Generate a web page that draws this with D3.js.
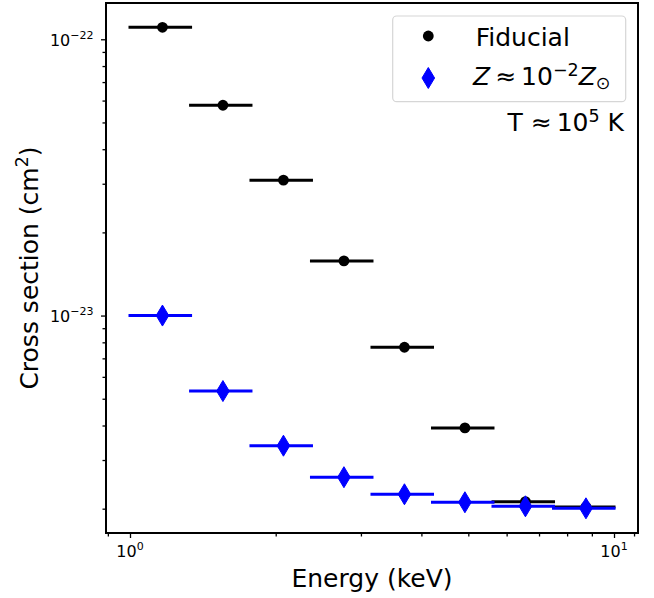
<!DOCTYPE html>
<html>
<head>
<meta charset="utf-8">
<script src="https://cdn.jsdelivr.net/npm/d3@7"></script>
<style>
  body { margin: 0; background: #fff; }
  svg { display: block; }
  text { font-family: "DejaVu Sans", sans-serif; fill: #000; }
</style>
</head>
<body>
<svg id="chart" width="654" height="598"></svg>
<script>
// Energy bins (keV): lower edge, upper edge and bin centre
const binLow  = [1.000, 1.334, 1.778, 2.371, 3.162, 4.217, 5.623, 7.499];
const binHigh = [1.334, 1.778, 2.371, 3.162, 4.217, 5.623, 7.499, 10.000];
const energy  = [1.167, 1.556, 2.075, 2.767, 3.690, 4.920, 6.561, 8.750];

// Cross sections (cm^2)
const fiducial = [1.105e-22, 5.77e-23, 3.09e-23, 1.577e-23, 7.68e-24, 3.92e-24, 2.12e-24, 2.03e-24];
const lowMetal = [1.00e-23, 5.33e-24, 3.38e-24, 2.60e-24, 2.255e-24, 2.11e-24, 2.04e-24, 2.006e-24];

// Axis ticks
const xMajorTicks = [1, 10];
const xMajorExp = ["0", "1"];
const xMinorTicks = [0.9, 2, 3, 4, 5, 6, 7, 8, 9, 11];
const yMajorTicks = [1e-22, 1e-23];
const yMajorExp = ["\u221222", "\u221223"];
const yMinorTicks = [9e-23, 8e-23, 7e-23, 6e-23, 5e-23, 4e-23, 3e-23, 2e-23,
                     9e-24, 8e-24, 7e-24, 6e-24, 5e-24, 4e-24, 3e-24, 2e-24];

const svg = d3.select("#chart");
const L = 106, R = 638, T = 3, B = 533;

const x = d3.scaleLog().domain([0.8921, 11.209]).range([L, R]);
const y = d3.scaleLog().domain([1.633e-24, 1.353e-22]).range([B, T]);

// ticks
const gx = svg.append("g").attr("transform", `translate(0,${B})`);
gx.call(d3.axisBottom(x).tickValues(xMajorTicks).tickSize(5).tickFormat(""));
const gxm = svg.append("g").attr("transform", `translate(0,${B})`);
gxm.call(d3.axisBottom(x).tickValues(xMinorTicks).tickSize(3.5).tickFormat(""));
const gy = svg.append("g").attr("transform", `translate(${L},0)`);
gy.call(d3.axisLeft(y).tickValues(yMajorTicks).tickSize(5).tickFormat(""));
const gym = svg.append("g").attr("transform", `translate(${L},0)`);
gym.call(d3.axisLeft(y).tickValues(yMinorTicks).tickSize(3.5).tickFormat(""));
svg.selectAll(".domain").remove();
svg.selectAll(".tick line").attr("stroke", "#000").attr("stroke-width", 1.3);

// tick labels with exponents
xMajorTicks.forEach((v, i) => {
  const t = svg.append("text").attr("x", x(v)).attr("y", 557)
    .attr("text-anchor", "middle").style("font-size", "16px");
  t.append("tspan").text("10");
  t.append("tspan").attr("dy", -7).style("font-size", "11px").text(xMajorExp[i]);
});
yMajorTicks.forEach((v, i) => {
  const t = svg.append("text").attr("x", 93.5).attr("y", y(v) + 6.8)
    .attr("text-anchor", "end").style("font-size", "16px");
  t.append("tspan").text("10");
  t.append("tspan").attr("dy", -7).style("font-size", "11px").text(yMajorExp[i]);
});

// axis labels
svg.append("text").attr("x", (L + R) / 2).attr("y", 587)
  .attr("text-anchor", "middle").style("font-size", "25px").text("Energy (keV)");
const yl = svg.append("text")
  .attr("transform", `translate(38.3,${(T + B) / 2}) rotate(-90)`)
  .attr("text-anchor", "middle").style("font-size", "25px");
yl.append("tspan").text("Cross section (cm");
yl.append("tspan").attr("dy", -10).style("font-size", "17.5px").text("2");
yl.append("tspan").attr("dy", 10).text(")");

// thin diamond marker
const thinDiamond = {
  draw(ctx, size) {
    const h = Math.sqrt(size);
    ctx.moveTo(0, -h / 2);
    ctx.lineTo(0.3 * h, 0);
    ctx.lineTo(0, h / 2);
    ctx.lineTo(-0.3 * h, 0);
    ctx.closePath();
  }
};
const diamondPath = d3.symbol().type(thinDiamond).size(21 * 21)();

function drawSeries(values, color, marker) {
  const g = svg.append("g");
  g.selectAll("line").data(values).join("line")
    .attr("x1", (d, i) => x(binLow[i])).attr("x2", (d, i) => x(binHigh[i]))
    .attr("y1", d => y(d)).attr("y2", d => y(d))
    .attr("stroke", color).attr("stroke-width", 3).attr("stroke-linecap", "square");
  if (marker === "circle") {
    g.selectAll("circle").data(values).join("circle")
      .attr("cx", (d, i) => x(energy[i])).attr("cy", d => y(d))
      .attr("r", 5.4).attr("fill", color);
  } else {
    g.selectAll("path").data(values).join("path")
      .attr("d", diamondPath)
      .attr("transform", (d, i) => `translate(${x(energy[i])},${y(d)})`)
      .attr("fill", color).attr("stroke", color).attr("stroke-width", 1);
  }
}
drawSeries(fiducial, "#000000", "circle");
drawSeries(lowMetal, "#0000ff", "diamond");

// frame
svg.append("rect").attr("x", L).attr("y", T).attr("width", R - L).attr("height", B - T)
  .attr("fill", "none").attr("stroke", "#000").attr("stroke-width", 2);

// legend
const lg = svg.append("g");
lg.append("rect").attr("x", 392.7).attr("y", 16).attr("width", 233).attr("height", 85.7)
  .attr("rx", 4).attr("fill", "#fff").attr("fill-opacity", 0.8)
  .attr("stroke", "#d6d6d6").attr("stroke-width", 1.2);
lg.append("circle").attr("cx", 428.3).attr("cy", 36).attr("r", 5.4).attr("fill", "#000");
lg.append("text").attr("x", 475.7).attr("y", 45.7).style("font-size", "25px").text("Fiducial");
lg.append("path").attr("d", diamondPath).attr("transform", "translate(428.3,78)")
  .attr("fill", "#0000ff").attr("stroke", "#0000ff").attr("stroke-width", 1);
const zt = lg.append("text").attr("x", 473).attr("y", 85.3).style("font-size", "25px");
zt.append("tspan").style("font-style", "italic").text("Z");
zt.append("tspan").text("\u2009\u2248\u200910");
zt.append("tspan").attr("dy", -9).style("font-size", "17.5px").text("\u22122");
zt.append("tspan").attr("dy", 9).style("font-style", "italic").text("Z");
zt.append("tspan").attr("dy", 4).style("font-size", "17.5px").text("\u2299");

// temperature note
const tt = svg.append("text").attr("x", 624).attr("y", 130.7)
  .attr("text-anchor", "end").style("font-size", "25px");
tt.append("tspan").text("T \u2248\u200910");
tt.append("tspan").attr("dy", -9).style("font-size", "17.5px").text("5");
tt.append("tspan").attr("dy", 9).text(" K");
</script>
</body>
</html>
